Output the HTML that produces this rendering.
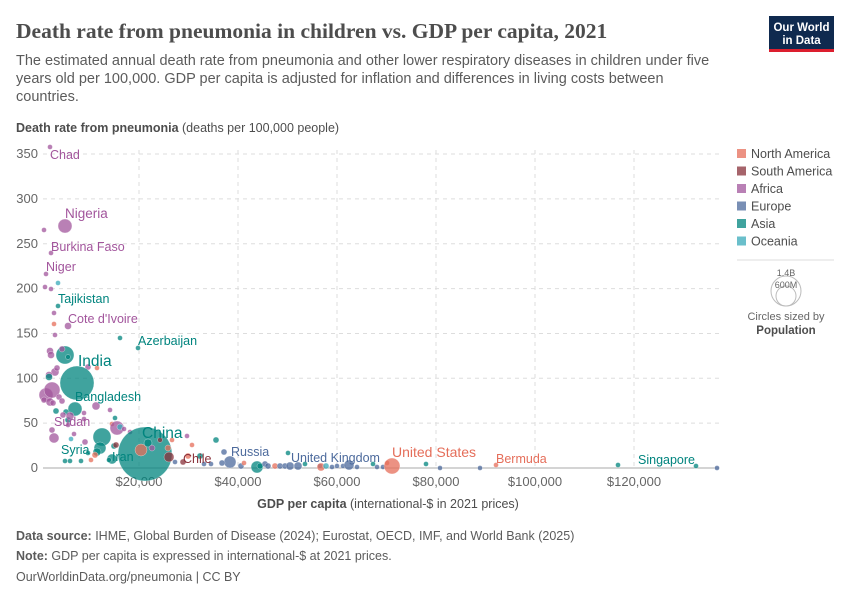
<!DOCTYPE html>
<html><head><meta charset="utf-8"><style>
body{margin:0;background:#fff;font-family:"Liberation Sans",sans-serif;}
svg text{font-family:"Liberation Sans",sans-serif;}
</style></head><body>
<svg width="850" height="600" xmlns="http://www.w3.org/2000/svg" id="s">
<text x="16" y="38" font-size="21.5" font-weight="bold" fill="#4d4d4d" style="font-family:'Liberation Serif',serif">Death rate from pneumonia in children vs. GDP per capita, 2021</text>
<rect x="769" y="16" width="65" height="34" fill="#0f2a4f"/><rect x="769" y="49" width="65" height="3" fill="#dc1e2e"/>
<text x="801.5" y="31" font-size="11.5" fill="#fff" text-anchor="middle" font-weight="bold">Our World</text>
<text x="801.5" y="44" font-size="11.5" fill="#fff" text-anchor="middle" font-weight="bold">in Data</text>
<text font-size="14.5" fill="#5b5b5b"><tspan x="16" y="65">The estimated annual death rate from pneumonia and other lower respiratory diseases in children under five</tspan><tspan x="16" y="83">years old per 100,000. GDP per capita is adjusted for inflation and differences in living costs between</tspan><tspan x="16" y="101">countries.</tspan></text>
<text x="16" y="132" font-size="12.5" fill="#4d4d4d"><tspan font-weight="bold">Death rate from pneumonia</tspan> (deaths per 100,000 people)</text>
<g id="grid" stroke="#ddd" stroke-dasharray="4,4" stroke-width="1"></g>
<line x1="43" y1="468" x2="719" y2="468" stroke="#aaa"/>
<g id="yl" font-size="13" fill="#666" text-anchor="end"></g>
<g id="xl" font-size="13" fill="#666" text-anchor="middle"></g>
<g id="pts"></g>
<g font-size="12.5">
<text x="50" y="159" fill="#a2559c">Chad</text>
<text x="65" y="218" fill="#a2559c" font-size="13.5">Nigeria</text>
<text x="51" y="251" fill="#a2559c">Burkina Faso</text>
<text x="46" y="271" fill="#a2559c">Niger</text>
<text x="58" y="303" fill="#00847e">Tajikistan</text>
<text x="68" y="323" fill="#a2559c">Cote d'Ivoire</text>
<text x="138" y="345" fill="#00847e">Azerbaijan</text>
<text x="78" y="366" fill="#00847e" font-size="15.5">India</text>
<text x="75" y="401" fill="#00847e">Bangladesh</text>
<text x="54" y="426" fill="#a2559c">Sudan</text>
<text x="61" y="454" fill="#00847e">Syria</text>
<text x="112" y="461" fill="#00847e">Iran</text>
<text x="142" y="438" fill="#00847e" font-size="15.5">China</text>
<text x="183" y="463" fill="#883039">Chile</text>
<text x="231" y="456" fill="#4c6a9c">Russia</text>
<text x="291" y="462" fill="#4c6a9c">United Kingdom</text>
<text x="392" y="457" fill="#e56e5a" font-size="14">United States</text>
<text x="496" y="463" fill="#e56e5a">Bermuda</text>
<text x="638" y="464" fill="#00847e">Singapore</text>
</g>
<text x="388" y="508" font-size="12.5" fill="#4d4d4d" text-anchor="middle"><tspan font-weight="bold">GDP per capita</tspan> (international-$ in 2021 prices)</text>
<g font-size="12.5" fill="#4d4d4d" id="leg"></g>
<line x1="737" y1="260" x2="834" y2="260" stroke="#ddd"/>
<circle cx="786" cy="291" r="15" fill="none" stroke="#bbb"/><circle cx="786" cy="296" r="10" fill="none" stroke="#bbb"/>
<text x="786" y="276" font-size="9" fill="#666" text-anchor="middle">1.4B</text>
<text x="786" y="288" font-size="9" fill="#666" text-anchor="middle">600M</text>
<text x="786" y="320" font-size="11" fill="#666" text-anchor="middle">Circles sized by</text>
<text x="786" y="334" font-size="11.5" fill="#4d4d4d" text-anchor="middle" font-weight="bold">Population</text>
<text x="16" y="540" font-size="12.5" fill="#5b5b5b"><tspan font-weight="bold">Data source:</tspan> IHME, Global Burden of Disease (2024); Eurostat, OECD, IMF, and World Bank (2025)</text>
<text x="16" y="560" font-size="12.5" fill="#5b5b5b"><tspan font-weight="bold">Note:</tspan> GDP per capita is expressed in international-$ at 2021 prices.</text>
<text x="16" y="581" font-size="12.5" fill="#5b5b5b">OurWorldinData.org/pneumonia | CC BY</text>
</svg>
<script>
var NS="http://www.w3.org/2000/svg";
function el(p,t,a,tx){var e=document.createElementNS(NS,t);for(var k in a)e.setAttribute(k,a[k]);if(tx)e.textContent=tx;document.getElementById(p).appendChild(e);return e;}
function Y(v){return 468-v*0.897;}
[50,100,150,200,250,300,350].forEach(function(v){el('grid','line',{x1:43,x2:719,y1:Y(v),y2:Y(v)});el('yl','text',{x:38,y:Y(v)+4},String(v));});
el('yl','text',{x:38,y:472},"0");
[20,40,60,80,100,120].forEach(function(v){var x=40+v*4.95;el('grid','line',{x1:x,x2:x,y1:150,y2:468});el('xl','text',{x:x,y:486},"$"+v+",000");});
var C={na:"#e56e5a",sa:"#883039",af:"#a2559c",eu:"#4c6a9c",as:"#00847e",oc:"#38aaba"};
var L=[["North America","na"],["South America","sa"],["Africa","af"],["Europe","eu"],["Asia","as"],["Oceania","oc"]];
L.forEach(function(l,i){el('leg','rect',{x:737,y:149+i*17.5,width:9,height:9,fill:C[l[1]],opacity:0.75});el('leg','text',{x:751,y:158+i*17.5},l[0]);});
var P=[
[50,147,2.5,'af'],[65,226,7,'af'],[44,230,2.5,'af'],[58,283,2.5,'oc'],[51,253,2.5,'af'],[46,274,2.5,'af'],[45,287,2.5,'af'],[51,289,2.5,'af'],
[58,306,2.5,'as'],[54,313,2.5,'af'],[54,324,2.5,'na'],[68,326,3.5,'af'],[55,335,2.5,'af'],[120,338,2.5,'as'],[138,348,2.5,'as'],
[65,355,9,'as'],[50,351,3.5,'af'],[51,355,3.5,'af'],[62,349,3,'af'],[68,357,2.5,'as'],[55,372,4,'af'],[49,375,3.5,'af'],[49,377,3.5,'as'],[57,368,3,'af'],[88,367,3,'af'],[97,368,2.5,'na'],
[77,383,17,'as'],[46,395,7,'af'],[52,390,8,'af'],[44,400,3,'af'],[50,402,4,'af'],[59,397,3,'af'],[53,403,3,'af'],[62,401,3,'af'],[75,409,7,'as'],[66,412,3,'as'],[63,415,3,'af'],[56,411,3,'as'],[68,420,3,'as'],[70,416,4,'af'],[96,406,4,'af'],[84,413,2.5,'af'],
[52,430,3,'af'],[54,438,5,'af'],[68,425,2.5,'af'],[71,439,2.5,'oc'],[74,434,2.5,'af'],[84,419,2.5,'af'],[110,410,2.5,'af'],[115,418,2.5,'as'],[112,424,2.5,'na'],[117,428,7,'af'],[120,427,3,'oc'],[124,429,2.5,'af'],[130,432,2.5,'af'],
[102,437,9,'as'],[100,448,6,'as'],[97,452,4,'as'],[85,442,3,'af'],[91,460,2.5,'na'],[95,455,3,'na'],[88,453,2.5,'as'],[114,446,3,'as'],[116,445,3,'sa'],[112,459,5,'as'],[81,461,2.5,'as'],[65,461,2.5,'as'],[70,461,2.5,'as'],[109,460,2.5,'as'],
[145,454,27,'as'],[141,450,6,'na'],[148,443,4,'as'],[152,448,3,'af'],[160,440,2.5,'sa'],[168,448,3,'na'],[172,440,2.5,'na'],[169,457,5,'sa'],[175,462,2.5,'eu'],[183,462,3,'sa'],[187,436,2.5,'af'],[192,445,2.5,'na'],[188,456,3,'na'],[200,456,3,'as'],[204,464,2.5,'eu'],[216,440,3,'as'],[211,464,2.5,'eu'],
[224,452,3,'eu'],[230,462,6,'eu'],[222,463,3,'eu'],[241,466,3,'eu'],[244,463,2.5,'na'],[257,467,6,'as'],[260,466,3,'as'],[265,464,3,'eu'],[268,466,3,'eu'],[275,466,3,'na'],[280,466,3,'eu'],[285,466,3,'eu'],[290,466,4,'eu'],[298,466,4,'eu'],[288,453,2.5,'as'],[305,464,2.5,'as'],
[320,466,2.5,'eu'],[321,467,4,'na'],[326,466,3,'oc'],[332,467,2.5,'eu'],[337,466,2.5,'eu'],[343,466,2.5,'eu'],[349,465,5,'eu'],[357,467,2.5,'eu'],[373,464,2.5,'as'],[377,467,2.5,'eu'],[383,467,2.5,'eu'],[387,463,2.5,'na'],
[392,466,8,'na'],[426,464,2.5,'as'],[440,468,2.5,'eu'],[480,468,2.5,'eu'],[496,465,2.5,'na'],[618,465,2.5,'as'],[696,466,2.5,'as'],[717,468,2.5,'eu']
];
P.forEach(function(p){el('pts','circle',{cx:p[0],cy:p[1],r:p[2],fill:C[p[3]],'fill-opacity':0.75,stroke:'#fff','stroke-width':0.3});});
</script>
</body></html>
